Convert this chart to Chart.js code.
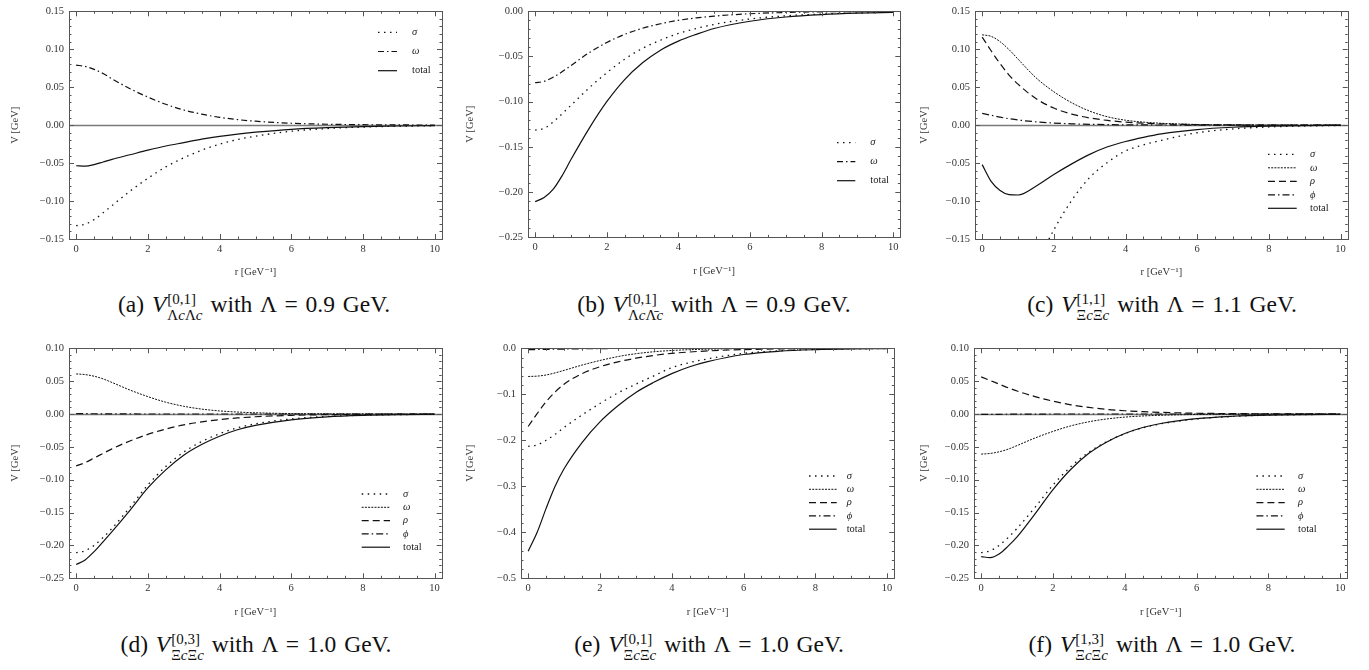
<!DOCTYPE html>
<html>
<head>
<meta charset="utf-8">
<script src="https://cdn.jsdelivr.net/npm/chart.js@4.4.0/dist/chart.umd.min.js"></script>
<style>
body{margin:0;background:#fff;width:1369px;height:670px;position:relative;overflow:hidden;font-family:'Liberation Serif','Times New Roman','DejaVu Serif',serif}
canvas{position:absolute}
.cap{position:absolute;font-size:23.5px;white-space:nowrap;transform:translate(-50%,-50%);color:#111;line-height:1;word-spacing:2px}
.ss{display:inline-flex;flex-direction:column;font-size:15px;line-height:1.05;vertical-align:8px;margin-left:1px;margin-right:8px}
</style>
</head>
<body>
<div class="cap" style="left:254px;top:308px">(a) <i>V</i><span class="ss"><span>[0,1]</span><span>Λ<i>c</i>Λ<i>c</i></span></span>with Λ = 0.9 GeV.</div>
<div class="cap" style="left:714px;top:308px">(b) <i>V</i><span class="ss"><span>[0,1]</span><span>Λ<i>c</i>Λ̄<i>c</i></span></span>with Λ = 0.9 GeV.</div>
<div class="cap" style="left:1162px;top:308px">(c) <i>V</i><span class="ss"><span>[1,1]</span><span>Ξ<i>c</i>Ξ<i>c</i></span></span>with Λ = 1.1 GeV.</div>
<div class="cap" style="left:256px;top:648px">(d) <i>V</i><span class="ss"><span>[0,3]</span><span>Ξ<i>c</i>Ξ<i>c</i></span></span>with Λ = 1.0 GeV.</div>
<div class="cap" style="left:709px;top:648px">(e) <i>V</i><span class="ss"><span>[0,1]</span><span>Ξ<i>c</i>Ξ<i>c</i></span></span>with Λ = 1.0 GeV.</div>
<div class="cap" style="left:1162px;top:648px">(f) <i>V</i><span class="ss"><span>[1,3]</span><span>Ξ<i>c</i>Ξ<i>c</i></span></span>with Λ = 1.0 GeV.</div>
<script>
// r grid (GeV^-1)
var r = [0, 0.25, 0.5, 0.75, 1, 1.5, 2, 2.5, 3, 3.5, 4, 4.5, 5, 6, 7, 8, 9, 10];

// (a) LcLc, Lambda = 0.9
var sigmaA = [-0.1325,-0.1305,-0.1245,-0.1155,-0.106,-0.087,-0.070,-0.055,-0.043,-0.033,-0.025,-0.019,-0.0145,-0.008,-0.0045,-0.0025,-0.0014,-0.0008];
var omegaA = [0.079,0.0775,0.0735,0.068,0.061,0.048,0.037,0.0275,0.020,0.0145,0.0103,0.0073,0.0052,0.0025,0.0012,0.0006,0.0003,0.0001];
var totalA = [-0.0535,-0.054,-0.052,-0.0485,-0.045,-0.039,-0.033,-0.0275,-0.023,-0.0185,-0.0147,-0.0117,-0.0093,-0.0055,-0.0033,-0.0019,-0.0011,-0.0007];

// (b) Lc anti-Lc, Lambda = 0.9
var sigmaB = [-0.1315,-0.1295,-0.1225,-0.1135,-0.104,-0.085,-0.068,-0.053,-0.041,-0.032,-0.0245,-0.019,-0.0145,-0.0085,-0.005,-0.003,-0.0018,-0.001];
var omegaB = [-0.079,-0.0775,-0.073,-0.067,-0.060,-0.046,-0.0345,-0.0255,-0.0188,-0.0138,-0.010,-0.0073,-0.0053,-0.0027,-0.0013,-0.0006,-0.0003,-0.0001];
var totalB = [-0.2105,-0.206,-0.197,-0.182,-0.164,-0.130,-0.100,-0.0755,-0.057,-0.043,-0.033,-0.0255,-0.019,-0.011,-0.0063,-0.0036,-0.002,-0.0011];

// (c) XcXc [1,1], Lambda = 1.1
var sigmaC = [-0.303,-0.300,-0.290,-0.270,-0.243,-0.185,-0.138,-0.099,-0.069,-0.049,-0.034,-0.026,-0.020,-0.010,-0.005,-0.0024,-0.0011,-0.0005];
var omegaC = [0.119,0.117,0.110,0.0995,0.087,0.0625,0.044,0.0295,0.0185,0.011,0.0065,0.004,0.0025,0.0009,0.0003,0.0001,0,0];
var rhoC   = [0.116,0.098,0.081,0.066,0.054,0.035,0.0225,0.0145,0.0095,0.0062,0.004,0.0026,0.0017,0.0007,0.0003,0.0001,0,0];
var phiC   = [0.0155,0.013,0.0105,0.0085,0.0068,0.0044,0.0028,0.0018,0.0011,0.0007,0.0004,0.0003,0.0002,0.0001,0,0,0,0];
var totalC = [-0.052,-0.074,-0.086,-0.0915,-0.092,-0.0805,-0.065,-0.051,-0.0385,-0.0285,-0.0215,-0.016,-0.0115,-0.0058,-0.0028,-0.0013,-0.0006,-0.0003];

// (d) XcXc [0,3], Lambda = 1.0
var sigmaD = [-0.211,-0.208,-0.200,-0.188,-0.174,-0.142,-0.108,-0.080,-0.058,-0.042,-0.030,-0.021,-0.015,-0.0075,-0.0037,-0.0018,-0.0009,-0.0004];
var omegaD = [0.061,0.060,0.0575,0.0535,0.048,0.0365,0.0265,0.018,0.0118,0.0075,0.0047,0.003,0.0019,0.0007,0.0003,0.0001,0,0];
var rhoD   = [-0.079,-0.074,-0.067,-0.060,-0.053,-0.041,-0.031,-0.023,-0.0165,-0.012,-0.0085,-0.006,-0.0042,-0.002,-0.001,-0.0005,-0.0002,-0.0001];
var phiD   = [0.0006,0.0005,0.0004,0.0003,0.0002,0.0001,0,0,0,0,0,0,0,0,0,0,0,0];
var totalD = [-0.229,-0.222,-0.2095,-0.1945,-0.179,-0.1465,-0.1125,-0.085,-0.0627,-0.0465,-0.0338,-0.024,-0.0173,-0.0088,-0.0044,-0.0022,-0.0011,-0.0005];

// (e) XcXc [0,1], Lambda = 1.0
var sigmaE = [-0.213,-0.210,-0.200,-0.187,-0.172,-0.145,-0.120,-0.097,-0.078,-0.060,-0.042,-0.031,-0.023,-0.011,-0.0055,-0.0027,-0.0013,-0.0006];
var omegaE = [-0.0613,-0.0605,-0.058,-0.0535,-0.048,-0.0365,-0.0265,-0.018,-0.0118,-0.0075,-0.0047,-0.003,-0.0019,-0.0007,-0.0003,-0.0001,0,0];
var rhoE   = [-0.170,-0.142,-0.116,-0.095,-0.078,-0.055,-0.040,-0.0295,-0.0215,-0.0155,-0.011,-0.008,-0.0057,-0.0028,-0.0014,-0.0007,-0.0003,-0.0001];
var phiE   = [-0.003,-0.0027,-0.0023,-0.0019,-0.0016,-0.001,-0.0006,-0.0004,-0.0002,-0.0001,0,0,0,0,0,0,0,0];
var totalE = [-0.441,-0.400,-0.348,-0.300,-0.262,-0.205,-0.160,-0.125,-0.096,-0.074,-0.055,-0.040,-0.029,-0.0135,-0.0063,-0.003,-0.0014,-0.0007];

// (f) XcXc [1,3], Lambda = 1.0
var sigmaF = [-0.211,-0.208,-0.200,-0.188,-0.174,-0.142,-0.108,-0.080,-0.058,-0.042,-0.030,-0.021,-0.015,-0.0075,-0.0037,-0.0018,-0.0009,-0.0004];
var omegaF = [-0.061,-0.060,-0.0575,-0.0535,-0.048,-0.0365,-0.0265,-0.018,-0.0118,-0.0075,-0.0047,-0.003,-0.0019,-0.0007,-0.0003,-0.0001,0,0];
var rhoF   = [0.0565,0.051,0.0455,0.040,0.035,0.0265,0.0195,0.014,0.010,0.007,0.005,0.0035,0.0025,0.0012,0.0006,0.0003,0.0001,0];
var phiF   = [-0.0006,-0.0005,-0.0004,-0.0003,-0.0002,-0.0001,0,0,0,0,0,0,0,0,0,0,0,0];
var totalF = [-0.217,-0.2185,-0.213,-0.201,-0.187,-0.152,-0.115,-0.084,-0.0598,-0.0425,-0.0297,-0.0205,-0.0144,-0.007,-0.0034,-0.0016,-0.0008,-0.0004];

// tick labels
var xTicks = [0, 2, 4, 6, 8, 10];
var yTicksAC = [-0.15, -0.10, -0.05, 0, 0.05, 0.10, 0.15];
var yTicksB = [-0.25, -0.20, -0.15, -0.10, -0.05, 0];
var yTicksDF = [-0.25, -0.20, -0.15, -0.10, -0.05, 0, 0.05, 0.10];
var yTicksE = [-0.5, -0.4, -0.3, -0.2, -0.1, 0];

// line styles
var styles = {
  sigma:   {dash: [1.5, 4.5], width: 1.3},
  omegaDD: {dash: [6, 3, 1.5, 3], width: 1.2},
  omega:   {dash: [2, 1.2], width: 1},
  rho:     {dash: [7, 4], width: 1.2},
  phi:     {dash: [7, 3, 1.5, 3], width: 1.2},
  total:   {dash: [], width: 1.2}
};

var panels = [
  {plot: [69, 8.3, 442, 239], yw: 60, yMin: -0.15, yMax: 0.15, yTicks: yTicksAC, major: 0.05, minor: 0.01, dec: 2, zero: true,
   series: [['σ', sigmaA, 'sigma'], ['ω', omegaA, 'omegaDD'], ['total', totalA, 'total']],
   legend: {x0: 378, x1: 397, tx: 412, y0: 32.3, dy: 19.2}},
  {plot: [527.7, 6, 900, 237.3], yw: 64, yMin: -0.25, yMax: 0, yTicks: yTicksB, major: 0.05, minor: 0.01, dec: 2, zero: false,
   series: [['σ', sigmaB, 'sigma'], ['ω', omegaB, 'omegaDD'], ['total', totalB, 'total']],
   legend: {x0: 836.7, x1: 855, tx: 870, y0: 142.7, dy: 19}},
  {plot: [975, 8.3, 1347.7, 239], yw: 57, yMin: -0.15, yMax: 0.15, yTicks: yTicksAC, major: 0.05, minor: 0.01, dec: 2, zero: true,
   series: [['σ', sigmaC, 'sigma'], ['ω', omegaC, 'omega'], ['ρ', rhoC, 'rho'], ['ϕ', phiC, 'phi'], ['total', totalC, 'total']],
   legend: {x0: 1268, x1: 1296.7, tx: 1310, y0: 154.3, dy: 13.5}},
  {plot: [69, 347.3, 441.7, 578.3], yw: 60, yMin: -0.25, yMax: 0.10, yTicks: yTicksDF, major: 0.05, minor: 0.01, dec: 2, zero: true,
   series: [['σ', sigmaD, 'sigma'], ['ω', omegaD, 'omega'], ['ρ', rhoD, 'rho'], ['ϕ', phiD, 'phi'], ['total', totalD, 'total']],
   legend: {x0: 361.7, x1: 390, tx: 403, y0: 494, dy: 13.3}},
  {plot: [521, 347.3, 894.3, 578.3], yw: 57, yMin: -0.5, yMax: 0, yTicks: yTicksE, major: 0.1, minor: 0.02, dec: 1, zero: false,
   series: [['σ', sigmaE, 'sigma'], ['ω', omegaE, 'omega'], ['ρ', rhoE, 'rho'], ['ϕ', phiE, 'phi'], ['total', totalE, 'total']],
   legend: {x0: 809, x1: 836.7, tx: 846.7, y0: 476, dy: 13.3}},
  {plot: [974.3, 347.3, 1347.7, 578.3], yw: 56, yMin: -0.25, yMax: 0.10, yTicks: yTicksDF, major: 0.05, minor: 0.01, dec: 2, zero: true,
   series: [['σ', sigmaF, 'sigma'], ['ω', omegaF, 'omega'], ['ρ', rhoF, 'rho'], ['ϕ', phiF, 'phi'], ['total', totalF, 'total']],
   legend: {x0: 1256.7, x1: 1285, tx: 1298.3, y0: 476, dy: 13.3}}
];

var FAMILY = "'Liberation Serif', 'Times New Roman', 'DejaVu Serif', serif";

var frame = {
  id: 'frame',
  beforeDatasetsDraw: function(chart, args, o) {
    if (!o.zero) return;
    var a = chart.chartArea, ctx = chart.ctx;
    var py = Math.round(chart.scales.y.getPixelForValue(0)) + 0.5;
    ctx.save();
    ctx.strokeStyle = '#7a7a7a'; ctx.lineWidth = 1.3;
    ctx.beginPath(); ctx.moveTo(a.left, py); ctx.lineTo(a.right, py); ctx.stroke();
    ctx.restore();
  },
  afterDatasetsDraw: function(chart, args, o) {
    var a = chart.chartArea, ctx = chart.ctx, x = chart.scales.x, y = chart.scales.y;
    ctx.save();
    ctx.strokeStyle = '#555'; ctx.lineWidth = 1;
    ctx.strokeRect(Math.round(a.left) + 0.5, Math.round(a.top) + 0.5, Math.round(a.right - a.left), Math.round(a.bottom - a.top));
    ctx.beginPath();
    for (var k = 0; k <= 20; k++) {
      var px = Math.round(x.getPixelForValue(k * 0.5)) + 0.5;
      var len = k % 4 == 0 ? 5 : 2.5;
      ctx.moveTo(px, a.bottom); ctx.lineTo(px, a.bottom - len);
      ctx.moveTo(px, a.top); ctx.lineTo(px, a.top + len);
    }
    var k0 = Math.ceil(o.yMin / o.minor - 1e-6), k1 = Math.floor(o.yMax / o.minor + 1e-6);
    for (var j = k0; j <= k1; j++) {
      var v = j * o.minor;
      var isMajor = Math.abs(Math.round(v / o.major) * o.major - v) < 1e-6;
      var py = Math.round(y.getPixelForValue(v)) + 0.5;
      var l2 = isMajor ? 5 : 2.5;
      ctx.moveTo(a.left, py); ctx.lineTo(a.left + l2, py);
      ctx.moveTo(a.right, py); ctx.lineTo(a.right - l2, py);
    }
    ctx.stroke();
    // legend inside the frame
    var lg = o.legend;
    ctx.strokeStyle = '#111'; ctx.fillStyle = '#222';
    ctx.textBaseline = 'middle';
    chart.data.datasets.forEach(function(ds, i) {
      var ly = lg.y0 + i * lg.dy;
      ctx.setLineDash(ds.borderDash); ctx.lineWidth = ds.borderWidth;
      ctx.beginPath(); ctx.moveTo(lg.x0, ly); ctx.lineTo(lg.x1, ly); ctx.stroke();
      ctx.setLineDash([]);
      ctx.font = (ds.label == 'total' ? '' : 'italic ') + '10.5px ' + FAMILY;
      ctx.fillText(ds.label, lg.tx, ly);
    });
    ctx.restore();
  }
};

var tickFont = {family: FAMILY, size: 10.5};
var titleFont = {family: FAMILY, size: 10.5};

panels.forEach(function(p) {
  var l = p.plot[0], t = p.plot[1], rt = p.plot[2], b = p.plot[3];
  var top = t < 100 ? 0 : 337;
  var left = l - p.yw;
  var W = Math.ceil(rt + 10 - left), H = Math.ceil(b + 40 - top);
  var xh = H - (b - top);
  var cv = document.createElement('canvas');
  cv.width = W; cv.height = H;
  cv.style.left = left + 'px'; cv.style.top = top + 'px';
  document.body.appendChild(cv);

  var datasets = p.series.map(function(s) {
    var st = styles[s[2]];
    return {
      label: s[0],
      data: r.map(function(rv, i) { return {x: rv, y: s[1][i]}; }),
      borderColor: '#111', borderWidth: st.width, borderDash: st.dash,
      pointRadius: 0, fill: false, cubicInterpolationMode: 'monotone'
    };
  });

  new Chart(cv, {
    type: 'line',
    data: {datasets: datasets},
    options: {
      responsive: false, animation: false, events: [],
      layout: {padding: {top: t - top, right: W - (rt - left), left: 0, bottom: 0}, autoPadding: false},
      plugins: {
        legend: {display: false}, tooltip: {enabled: false},
        frame: {zero: p.zero, yMin: p.yMin, yMax: p.yMax, major: p.major, minor: p.minor,
                legend: {x0: p.legend.x0 - left, x1: p.legend.x1 - left, tx: p.legend.tx - left, y0: p.legend.y0 - top, dy: p.legend.dy}}
      },
      scales: {
        x: {
          type: 'linear', min: -0.2, max: 10.2,
          afterBuildTicks: function(s) { s.ticks = xTicks.map(function(v) { return {value: v}; }); },
          afterFit: function(s) { s.height = xh; },
          grid: {display: false, drawTicks: false}, border: {display: false},
          ticks: {font: tickFont, color: '#333', padding: 4, maxRotation: 0, autoSkip: false,
                  callback: function(v) { return String(v); }},
          title: {display: true, text: 'r [GeV\u207B\u00B9]', font: titleFont, color: '#333', padding: 0}
        },
        y: {
          type: 'linear', min: p.yMin, max: p.yMax,
          afterBuildTicks: function(s) { s.ticks = p.yTicks.map(function(v) { return {value: v}; }); },
          afterFit: function(s) { s.width = p.yw; },
          grid: {display: false, drawTicks: false}, border: {display: false},
          ticks: {font: tickFont, color: '#333', padding: 5, autoSkip: false,
                  callback: function(v) { return (v < -1e-9 ? '\u2212' : '') + Math.abs(v).toFixed(p.dec); }},
          title: {display: true, text: 'V [GeV]', font: titleFont, color: '#333', padding: 0}
        }
      }
    },
    plugins: [frame]
  });
});
</script>
</body>
</html>
